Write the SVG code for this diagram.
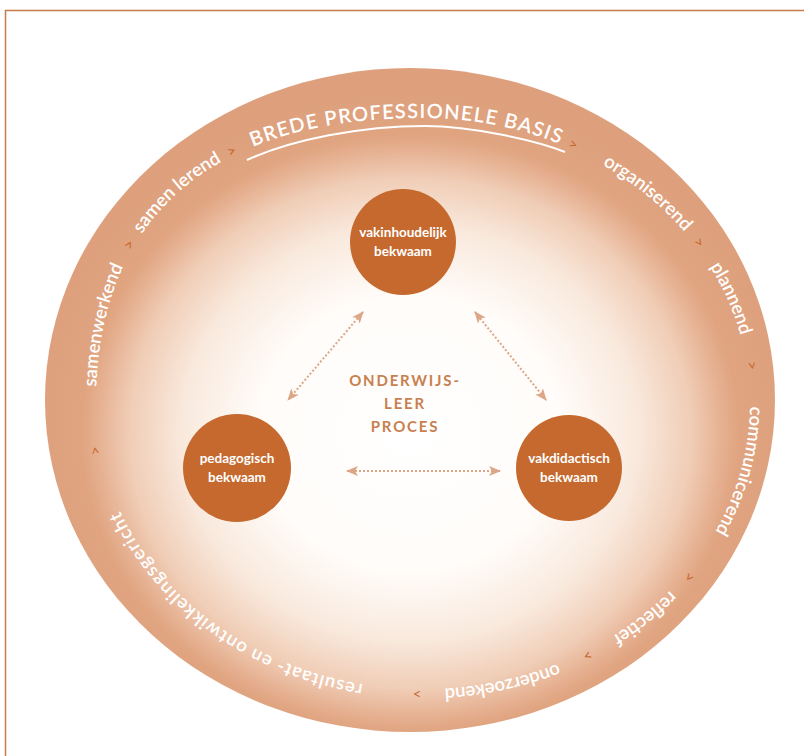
<svg xmlns="http://www.w3.org/2000/svg" width="804" height="756" viewBox="0 0 804 756">
<defs>
<radialGradient id="bg" cx="50%" cy="55%" r="52%">
<stop offset="0" stop-color="#ffffff"/>
<stop offset="0.4" stop-color="#fffcf9"/>
<stop offset="0.6" stop-color="#f9e9dd"/>
<stop offset="0.74" stop-color="#f0cdb6"/>
<stop offset="0.82" stop-color="#e6b192"/>
<stop offset="0.865" stop-color="#e0a480"/>
<stop offset="1" stop-color="#dea07c"/>
</radialGradient>
<path id="ringpath" d="M 423 689 A 327 285.5 0 0 1 96 403.5 C 96 217.9 210.4 118 423 118 A 327 285.5 0 0 1 750 403.5 A 327 285.5 0 0 1 423 689"/>
<marker id="ah" viewBox="0 0 12 10" refX="11" refY="5" markerWidth="12" markerHeight="10" markerUnits="userSpaceOnUse" orient="auto-start-reverse">
<path d="M0 0 L12 5 L0 10 L3 5 Z" fill="#dca687"/>
</marker>
<style>
.node{fill:#c5692e}
.nt{font-family:Lato,"Open Sans",sans-serif;font-weight:bold;font-size:13.5px;fill:#ffffff;text-anchor:middle}
.rt{font-family:Lato,"Open Sans",sans-serif;font-weight:600;font-size:18.5px;fill:#ffffff;text-anchor:middle}
.sep{font-family:Lato,"Open Sans",sans-serif;font-size:15px;fill:#c8692e;text-anchor:middle}
.ct{font-family:Lato,"Open Sans",sans-serif;font-weight:bold;font-size:15px;fill:#c8804f;text-anchor:middle;letter-spacing:1.8px}
.conn{stroke:#dca687;stroke-width:2;stroke-dasharray:2 2;fill:none;marker-start:url(#ah);marker-end:url(#ah)}
</style>
</defs>
<rect width="804" height="756" fill="#ffffff"/>
<path d="M5.5 756 V10.5 H804" fill="none" stroke="#c9794a" stroke-width="1.5"/>
<g id="outer-ring">
<ellipse cx="410" cy="400" rx="365" ry="332" fill="url(#bg)"/>
</g>
<g id="ring-labels">
<text class="rt" style="font-size:20px;letter-spacing:1.2px"><textPath href="#ringpath" startOffset="960">BREDE PROFESSIONELE BASIS</textPath></text>
<path d="M 247 160 C 292 139.5 361 126 425 126 C 472 126 537 140.8 565 152" fill="none" stroke="#ffffff" stroke-width="2"/>
<text class="sep"><textPath href="#ringpath" startOffset="1129">&gt;</textPath></text>
<text class="rt"><textPath href="#ringpath" startOffset="1217">organiserend</textPath></text>
<text class="sep"><textPath href="#ringpath" startOffset="1287.5">&gt;</textPath></text>
<text class="rt"><textPath href="#ringpath" startOffset="1351">plannend</textPath></text>
<text class="sep"><textPath href="#ringpath" startOffset="1420.5">&gt;</textPath></text>
<text class="rt"><textPath href="#ringpath" startOffset="1526.5">communicerend</textPath></text>
<text class="sep"><textPath href="#ringpath" startOffset="1644">&gt;</textPath></text>
<text class="rt"><textPath href="#ringpath" startOffset="1703.5">reflectief</textPath></text>
<text class="sep"><textPath href="#ringpath" startOffset="1771">&gt;</textPath></text>
<text class="rt"><textPath href="#ringpath" startOffset="1859.5">onderzoekend</textPath></text>
<text class="sep"><textPath href="#ringpath" startOffset="6">&gt;</textPath></text>
<text class="rt" style="letter-spacing:1px"><textPath href="#ringpath" startOffset="215.7">resultaat- en ontwikkelingsgericht</textPath></text>
<text class="sep"><textPath href="#ringpath" startOffset="435">&gt;</textPath></text>
<text class="rt"><textPath href="#ringpath" startOffset="560">samenwerkend</textPath></text>
<text class="sep"><textPath href="#ringpath" startOffset="644">&gt;</textPath></text>
<text class="rt"><textPath href="#ringpath" startOffset="714">samen lerend</textPath></text>
<text class="sep"><textPath href="#ringpath" startOffset="782">&gt;</textPath></text>
</g>
<g id="connectors">
<line class="conn" x1="363" y1="312" x2="288" y2="400"/>
<line class="conn" x1="475" y1="312" x2="546" y2="400"/>
<line class="conn" x1="347" y1="471" x2="500" y2="471"/>
</g>
<g id="center-label">
<text class="ct" x="405" y="386">ONDERWIJS-</text>
<text class="ct" x="405" y="409">LEER</text>
<text class="ct" x="405" y="432">PROCES</text>
</g>
<g id="node-vakinhoudelijk">
<circle class="node" cx="403" cy="242" r="53"/>
<text class="nt" x="403" y="237">vakinhoudelijk</text>
<text class="nt" x="403" y="256">bekwaam</text>
</g>
<g id="node-pedagogisch">
<circle class="node" cx="237" cy="468" r="54"/>
<text class="nt" x="237" y="463">pedagogisch</text>
<text class="nt" x="237" y="482">bekwaam</text>
</g>
<g id="node-vakdidactisch">
<circle class="node" cx="569" cy="468" r="53"/>
<text class="nt" x="569" y="463">vakdidactisch</text>
<text class="nt" x="569" y="482">bekwaam</text>
</g>
</svg>
